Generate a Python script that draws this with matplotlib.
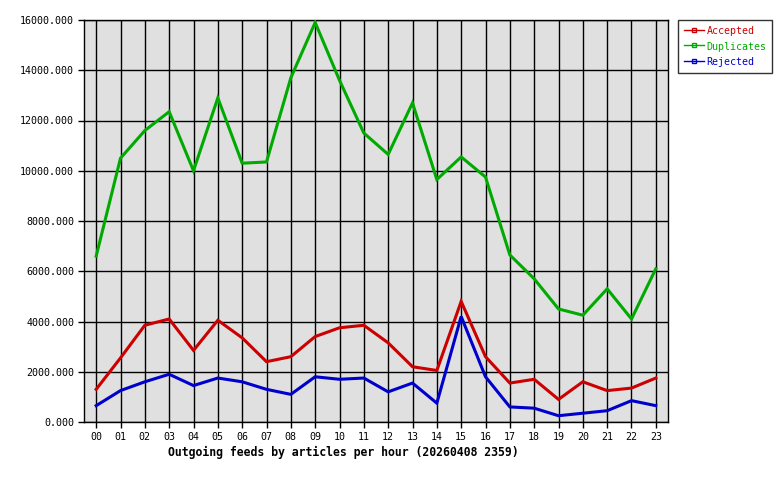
import matplotlib
matplotlib.use("Agg")
import matplotlib.pyplot as plt
from matplotlib.lines import Line2D

# hourly article counts
hours = [f"{h:02d}" for h in range(24)]
accepted = [1300, 2550, 3850, 4100, 2850, 4050, 3350, 2400, 2600, 3400, 3750, 3850,
            3150, 2200, 2050, 4800, 2600, 1550, 1700, 900, 1600, 1250, 1350, 1750]
duplicates = [6600, 10500, 11600, 12350, 10000, 12900, 10300, 10350, 13700, 15900, 13600, 11500,
              10650, 12700, 9650, 10550, 9750, 6650, 5700, 4500, 4250, 5300, 4100, 6100]
rejected = [650, 1250, 1600, 1900, 1450, 1750, 1600, 1300, 1100, 1800, 1700, 1750,
            1200, 1550, 750, 4200, 1800, 600, 550, 250, 350, 450, 850, 650]
series_names = ["Accepted", "Duplicates", "Rejected"]
series_colors = ["#cc0000", "#00aa00", "#0000cc"]
y_ticks = [0, 2000, 4000, 6000, 8000, 10000, 12000, 14000, 16000]
title = "Outgoing feeds by articles per hour (20260408 2359)"

mono = "DejaVu Sans Mono"

fig = plt.figure(figsize=(7.8, 4.8), dpi=100)
ax = fig.add_axes([84 / 780, 58 / 480, 584 / 780, 402 / 480])
ax.set_facecolor("#e0e0e0")

x = list(range(len(hours)))
for vals, color in zip([accepted, duplicates, rejected], series_colors):
    ax.plot(x, vals, color=color, linewidth=2.2, solid_joinstyle="miter", zorder=3)

ax.set_xlim(-0.5, 23.5)
ax.set_ylim(0, 16000)
ax.set_xticks(x)
ax.set_xticklabels(hours, fontfamily=mono, fontsize=7.2)
ax.set_yticks(y_ticks)
ax.set_yticklabels([f"{v:.3f}" for v in y_ticks], fontfamily=mono, fontsize=7.2)
ax.tick_params(direction="out", length=4, width=1, color="black", pad=3)
ax.grid(True, color="black", linewidth=1)
ax.set_axisbelow(True)
for s in ax.spines.values():
    s.set_linewidth(1)

fig.text(343 / 780, 1 - 452 / 480, title, ha="center", va="center",
         fontfamily=mono, fontweight="bold", fontsize=8.3)

# legend box drawn in figure coordinates
handles = [Line2D([0], [0], color=c, linewidth=1, marker="s", markersize=2.5,
                  markerfacecolor="none", markeredgecolor=c) for c in series_colors]
leg = fig.legend(handles, series_names, loc="upper left",
                 bbox_to_anchor=(678 / 780, 1 - 20 / 480), frameon=True, fancybox=False,
                 prop={"family": mono, "size": 7.2}, handlelength=2.0, handleheight=1.3,
                 handletextpad=0.3, labelspacing=0.45, borderpad=0.55, borderaxespad=0)
leg.get_frame().set_edgecolor("black")
leg.get_frame().set_linewidth(1)
for t, c in zip(leg.get_texts(), series_colors):
    t.set_color(c)

fig.savefig("out.png", dpi=100)
